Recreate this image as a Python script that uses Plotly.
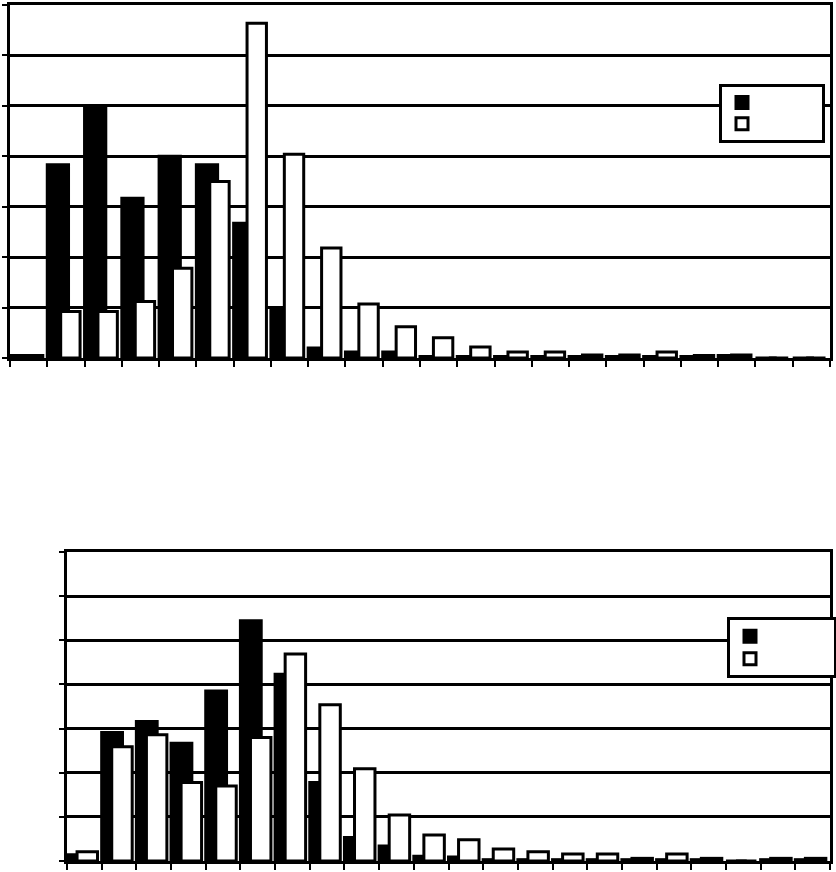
import plotly.graph_objects as go

categories = [str(i) for i in range(1, 23)]

top_black = [0.05, 3.83, 4.96, 3.17, 4.0, 3.83, 2.67, 1.0, 0.2, 0.12, 0.12,
             0.03, 0.03, 0.03, 0.03, 0.03, 0.03, 0.03, 0.03, 0.05, 0, 0]
top_white = [0.05, 0.92, 0.92, 1.12, 1.78, 3.5, 6.64, 4.04, 2.18, 1.07, 0.62,
             0.4, 0.22, 0.12, 0.12, 0.06, 0.06, 0.12, 0.05, 0.06, 0, 0]
bottom_black = [0.14, 2.91, 3.16, 2.67, 3.85, 5.44, 4.23, 1.78, 0.53, 0.34, 0.11,
                0.09, 0.03, 0.03, 0.03, 0.03, 0.03, 0.03, 0.03, 0, 0.03, 0.03]
bottom_white = [0.21, 2.59, 2.86, 1.78, 1.70, 2.80, 4.69, 3.54, 2.09, 1.04, 0.59,
                0.48, 0.27, 0.21, 0.16, 0.16, 0.06, 0.16, 0.06, 0, 0.06, 0.06]

W, H = 836, 872
line = dict(color="black", width=3)
blank_top = "\u00a0" * 14
blank_bot = "\u00a0" * 14

fig = go.Figure()
fig.add_trace(go.Bar(x=categories, y=top_black, offset=-0.5, width=0.57,
                     marker=dict(color="black", line=line), name=blank_top,
                     xaxis="x", yaxis="y", legend="legend"))
fig.add_trace(go.Bar(x=categories, y=top_white, offset=-0.14, width=0.52,
                     marker=dict(color="white", line=line), name=blank_top,
                     xaxis="x", yaxis="y", legend="legend"))
fig.add_trace(go.Bar(x=categories, y=bottom_black, offset=-0.5, width=0.6,
                     marker=dict(color="black", line=line), name=blank_bot,
                     xaxis="x2", yaxis="y2", legend="legend2"))
fig.add_trace(go.Bar(x=categories, y=bottom_white, offset=-0.21, width=0.59,
                     marker=dict(color="white", line=line), name=blank_bot,
                     xaxis="x2", yaxis="y2", legend="legend2"))

xcommon = dict(type="category", tickson="boundaries", ticks="outside", ticklen=6,
               tickwidth=2, tickcolor="black", showticklabels=False, showgrid=False,
               showline=True, linecolor="black", linewidth=3, mirror=True,
               range=[-0.5, 21.5])
ycommon = dict(range=[0, 7], dtick=1, ticks="outside", ticklen=5, tickwidth=2,
               tickcolor="black", showticklabels=False, showgrid=True,
               gridcolor="black", gridwidth=3, showline=True, linecolor="black",
               linewidth=3, mirror=True, zeroline=False)

fig.update_layout(
    width=W, height=H,
    margin=dict(l=0, r=0, t=0, b=0, autoexpand=False),
    paper_bgcolor="white", plot_bgcolor="white",
    barmode="overlay", showlegend=True,
    xaxis=dict(xcommon, domain=[10 / W, 830 / W], anchor="y"),
    yaxis=dict(ycommon, domain=[1 - 358 / H, 1 - 5 / H], anchor="x"),
    xaxis2=dict(xcommon, domain=[67 / W, 830 / W], anchor="y2"),
    yaxis2=dict(ycommon, domain=[1 - 861 / H, 1 - 552 / H], anchor="x2"),
    legend=dict(x=719 / W, y=1 - 84 / H, xanchor="left", yanchor="top",
                bgcolor="white", bordercolor="black", borderwidth=3,
                font=dict(size=14, family="Liberation Sans"), itemwidth=30,
                traceorder="normal"),
    legend2=dict(x=727 / W, y=1 - 617 / H, xanchor="left", yanchor="top",
                 bgcolor="white", bordercolor="black", borderwidth=3,
                 font=dict(size=15, family="Liberation Sans"), itemwidth=30,
                 traceorder="normal"),
)

fig.write_html("out.html", config={"displayModeBar": False},
               post_script="document.body.style.margin='0';")
